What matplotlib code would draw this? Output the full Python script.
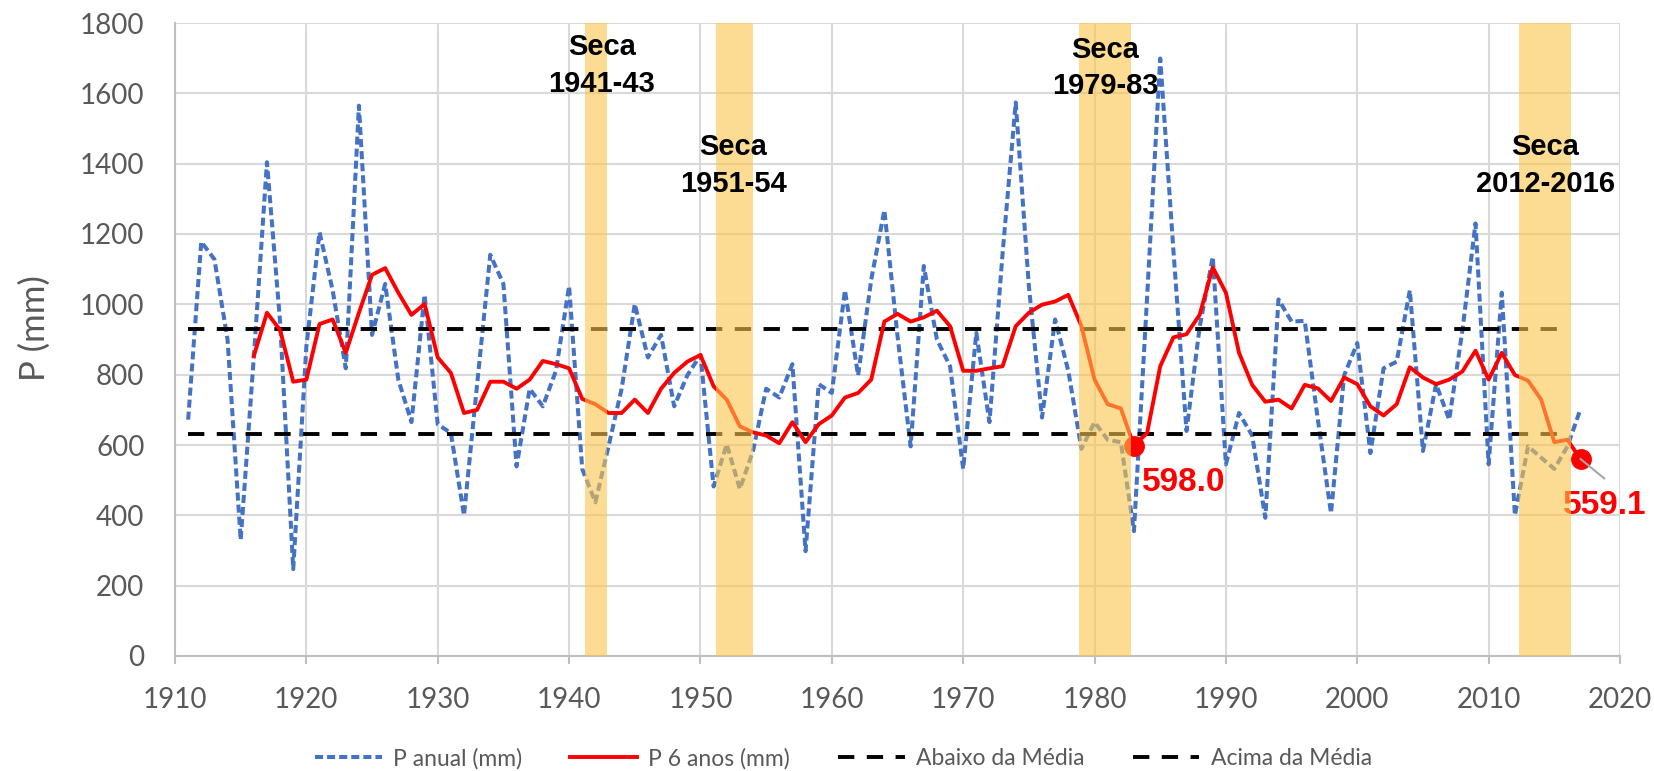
import matplotlib
matplotlib.use("Agg")
import matplotlib.pyplot as plt

# annual rainfall + 6-year moving average, with drought periods shaded
YEARS = list(range(1911, 2018))

P_ANUAL = [
    672, 1178, 1128, 900, 330, 850, 1404, 950, 247, 880,      # 1911-1920
    1205, 1040, 818, 1565, 913, 1058, 786, 665, 1027, 659,    # 1921-1930
    634, 400, 773, 1141, 1058, 539, 760, 710, 811, 1052,      # 1931-1940
    532, 437, 596, 760, 1001, 849, 913, 710, 798, 856,        # 1941-1950
    482, 602, 475, 583, 760, 735, 830, 298, 773, 748,         # 1951-1960
    1040, 798, 1070, 1268, 910, 596, 1109, 900, 824, 532,     # 1961-1970
    919, 665, 1145, 1574, 1052, 678, 957, 811, 589, 665,      # 1971-1980
    615, 608, 355, 1020, 1699, 1155, 640, 935, 1135, 545,     # 1981-1990
    691, 627, 393, 1014, 951, 953, 672, 406, 798, 890,        # 1991-2000
    577, 818, 837, 1040, 583, 773, 672, 925, 1230, 545,       # 2001-2010
    1033, 400, 596, 564, 532, 596, 703,                       # 2011-2017
]

YEARS_6 = list(range(1916, 2018))
P_6ANOS = [
    853, 976, 927, 780, 786, 944, 957, 862, 976, 1084,        # 1916-1925
    1103, 1033, 970, 1001, 849, 805, 691, 700, 780, 780,      # 1926-1935
    760, 786, 839, 830, 818, 731, 716, 691, 691, 729,         # 1936-1945
    691, 760, 805, 837, 856, 767, 729, 653, 636, 627,         # 1946-1955
    605, 665, 608, 659, 684, 735, 748, 786, 951, 973,         # 1956-1965
    951, 963, 982, 938, 811, 811, 818, 824, 938, 976,         # 1966-1975
    999, 1008, 1027, 938, 786, 716, 704, 598, 634, 824,       # 1976-1985
    906, 915, 970, 1105, 1033, 862, 771, 723, 729, 704,       # 1986-1995
    771, 761, 725, 792, 773, 710, 684, 716, 821, 792,         # 1996-2005
    773, 786, 809, 868, 786, 862, 799, 783, 729, 608,         # 2006-2015
    615, 559.1,                                               # 2016-2017
]

ABAIXO = 630
ACIMA = 930
MEDIA_ANOS = (1911, 2016)

SECAS = [(1941.2, 1942.85), (1951.2, 1954.0), (1978.85, 1982.8), (2012.3, 2016.3)]
SECA_LABELS = ["Seca\n1941-43", "Seca\n1951-54", "Seca\n1979-83", "Seca\n2012-2016"]
SECA_POS = [(1942.5, 1680), (1952.5, 1395), (1980.8, 1672), (2014.3, 1395)]

DESTAQUE_ANOS = [1983, 2017]
DESTAQUE_VAL = [598.0, 559.1]

BLUE = "#4472C4"
RED = "#FF0000"
BAND = "#FBC54A"
GRID = "#D9D9D9"
TXT = "#595959"
BOLD = ["Liberation Sans", "DejaVu Sans"]

plt.rcParams["font.family"] = ["Lato", "DejaVu Sans"]

fig = plt.figure(figsize=(16.54, 7.71), dpi=100)
ax = fig.add_axes([175 / 1654, 1 - 656 / 771, (1620 - 175) / 1654, (656 - 23) / 771])

ax.plot(YEARS, P_ANUAL, color=BLUE, lw=2.9, ls=(0, (2.0, 1.0)), label="P anual (mm)", zorder=3)
ax.plot(YEARS_6, P_6ANOS, color=RED, lw=2.8, label="P 6 anos (mm)", zorder=4)
ax.hlines(ABAIXO, *MEDIA_ANOS, color="black", lw=2.8, linestyles=(0, (4.2, 3.2)),
          label="Abaixo da Média", zorder=3)
ax.hlines(ACIMA, *MEDIA_ANOS, color="black", lw=2.8, linestyles=(0, (4.2, 3.2)),
          label="Acima da Média", zorder=3)

# highlight points for the two drought minima
ax.plot(DESTAQUE_ANOS, DESTAQUE_VAL, ls="none", marker="o", ms=14, color=RED, zorder=5)
ax.text(1983.6, 492, f"{DESTAQUE_VAL[0]:.1f}", color=RED, fontsize=24, fontweight="bold",
        family=BOLD, ha="left", va="center", zorder=5)
ax.plot([2017.0, 2018.8], [560, 505], color="#A6A6A6", lw=1.5, zorder=5)
ax.text(2018.8, 428, f"{DESTAQUE_VAL[1]:.1f}", color=RED, fontsize=24, fontweight="bold",
        family=BOLD, ha="center", va="center", zorder=5, clip_on=False)

# drought bands sit on top of the lines (like the original)
for (x0, x1), lab, (tx, ty) in zip(SECAS, SECA_LABELS, SECA_POS):
    ax.axvspan(x0, x1, color=BAND, alpha=0.6, lw=0, zorder=6)
    ax.text(tx, ty, lab, ha="center", va="center", fontsize=21, fontweight="bold",
            family=BOLD, linespacing=1.4, zorder=7)

ax.set_xlim(1910, 2020)
ax.set_ylim(0, 1800)
ax.set_xticks(range(1910, 2021, 10))
ax.set_yticks(range(0, 1801, 200))
ax.grid(True, color=GRID, lw=1.5, zorder=0)
ax.set_axisbelow(True)

for s in ["top", "right"]:
    ax.spines[s].set_visible(False)
for s in ["left", "bottom"]:
    ax.spines[s].set_color("#BFBFBF")
    ax.spines[s].set_linewidth(1.5)

ax.tick_params(axis="y", length=0, pad=22, labelsize=20, labelcolor=TXT)
ax.tick_params(axis="x", length=6, width=1.5, color="#BFBFBF", pad=16, labelsize=20, labelcolor=TXT)

fig.text(0.021, 0.575, "P (mm)", rotation=90, ha="center", va="center", fontsize=25, color=TXT)

leg = fig.legend(loc="center", bbox_to_anchor=(0.51, 0.016), ncol=4, frameon=False,
                 prop={"family": ["Lato", "DejaVu Sans"], "size": 16.5},
                 handlelength=2.9, handletextpad=0.5, columnspacing=2.1)
for t in leg.get_texts():
    t.set_color(TXT)

fig.savefig("out.png", dpi=100)
